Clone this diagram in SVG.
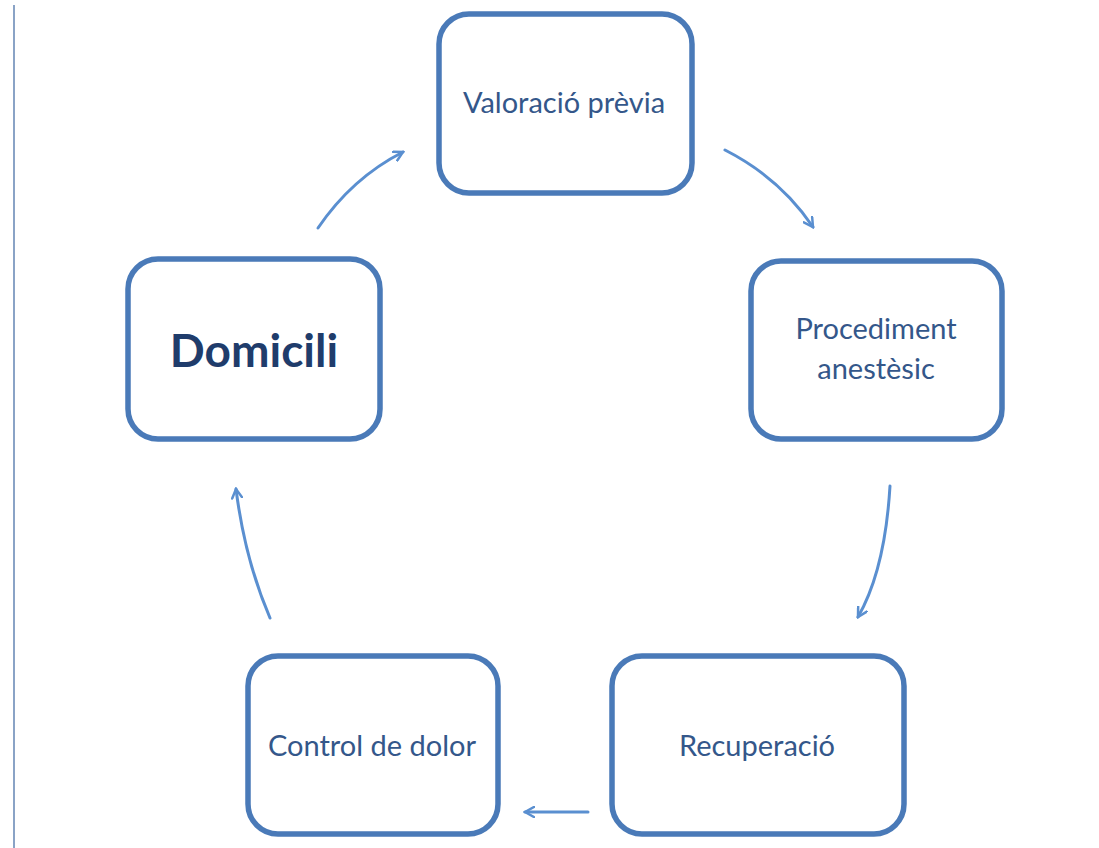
<svg xmlns="http://www.w3.org/2000/svg" width="1099" height="848" viewBox="0 0 1099 848">
<defs>
<style>
.box{fill:#fff;stroke:#4a7ab8;stroke-width:5.5}
.t{font-family:Lato,"Open Sans",sans-serif;font-size:29px;fill:#34578a;text-anchor:middle}
.tb{font-family:Lato,"Open Sans",sans-serif;font-size:46px;font-weight:bold;fill:#1f3c6b;text-anchor:middle}
.c{fill:none;stroke:#5a8fd0;stroke-width:3;stroke-linecap:round}
</style>
<marker id="ah" viewBox="0 0 12 12" refX="10" refY="6" markerWidth="12" markerHeight="12" markerUnits="userSpaceOnUse" orient="auto">
<path d="M1,1 L10,6 L1,11" fill="none" stroke="#5a8fd0" stroke-width="2.5" stroke-linecap="round"/>
</marker>
</defs>
<rect width="1099" height="848" fill="#fff"/>
<line x1="14" y1="5" x2="14" y2="848" stroke="#8aa3c6" stroke-width="2"/>
<g id="n1"><rect class="box" x="439" y="14" width="253" height="179" rx="30"/><text class="t" x="564" y="113">Valoració prèvia</text></g>
<g id="n2"><rect class="box" x="751" y="261" width="251" height="178" rx="30"/><text class="t" x="876" y="339">Procediment</text><text class="t" x="876" y="379">anestèsic</text></g>
<g id="n3"><rect class="box" x="612" y="656" width="292" height="178" rx="30"/><text class="t" x="757" y="756">Recuperació</text></g>
<g id="n4"><rect class="box" x="248" y="656" width="250" height="178" rx="30"/><text class="t" x="372" y="756">Control de dolor</text></g>
<g id="n5"><rect class="box" x="128" y="259" width="252" height="180" rx="30"/><text class="tb" x="254" y="367">Domicili</text></g>
<g id="connectors">
<path class="c" d="M318,228 Q352,178 403,152" marker-end="url(#ah)"/>
<path class="c" d="M725,150 Q780,178 813,227" marker-end="url(#ah)"/>
<path class="c" d="M890,486 Q885,570 858,617" marker-end="url(#ah)"/>
<path class="c" d="M588,812 L525,812" marker-end="url(#ah)"/>
<path class="c" d="M270,618 Q245,560 236,489" marker-end="url(#ah)"/>
</g>
</svg>
